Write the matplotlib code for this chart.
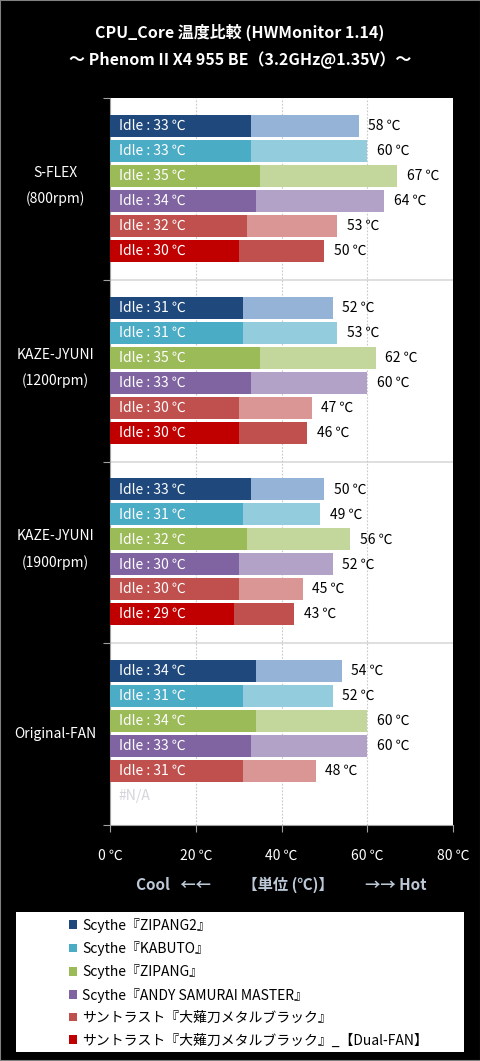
import numpy as np
import matplotlib
matplotlib.use('Agg')
import matplotlib.pyplot as plt
from matplotlib.patches import Patch, Rectangle
from matplotlib.transforms import blended_transform_factory

plt.rcParams['font.family'] = ['Noto Sans CJK JP', 'DejaVu Sans']

# ---- data -------------------------------------------------------------
groups = ['S-FLEX', 'KAZE-JYUNI', 'KAZE-JYUNI', 'Original-FAN']
group_sub = ['(800rpm)', '(1200rpm)', '(1900rpm)', '']
series = ['Scythe『ZIPANG2』', 'Scythe『KABUTO』', 'Scythe『ZIPANG』',
          'Scythe『ANDY SAMURAI MASTER』', 'サントラスト『大薙刀メタルブラック』',
          'サントラスト『大薙刀メタルブラック』_【Dual-FAN】']
idle = [[33, 33, 35, 34, 32, 30],
        [31, 31, 35, 33, 30, 30],
        [33, 31, 32, 30, 30, 29],
        [34, 31, 34, 33, 31, None]]
load = [[58, 60, 67, 64, 53, 50],
        [52, 53, 62, 60, 47, 46],
        [50, 49, 56, 52, 45, 43],
        [54, 52, 60, 60, 48, None]]
xticks = [0, 20, 40, 60, 80]

dark = ['#1F497D', '#4BACC6', '#9BBB59', '#8064A2', '#C0504D', '#C00000']
light = ['#95B3D7', '#93CDDD', '#C3D69B', '#B3A2C7', '#D99694', '#C0504D']

W, H = 481, 1061
fig = plt.figure(figsize=(W / 100, H / 100), dpi=100, facecolor='black')
ax = fig.add_axes([110 / W, 1 - 825 / H, 343 / W, 727 / H])
ax.set_facecolor('white')

G = 7.28          # slots per group
top_pad = 1.12
bh = 0.88
fs = 10

for g in range(len(groups)):
    for i in range(len(series)):
        y = g * G + top_pad + i
        lo, hi = idle[g][i], load[g][i]
        if lo is None:
            ax.text(2, y, '#N/A', color='#D4D4DC', fontsize=fs, va='center', ha='left')
            continue
        ax.barh(y, hi - lo, left=lo, height=bh, color=light[i], zorder=3)
        ax.barh(y, lo, left=0, height=bh, color=dark[i], zorder=3)
        ax.text(2, y, f'Idle : {lo} ℃', color='white', fontsize=fs,
                va='center', ha='left', zorder=4)
        ax.text(hi + 2.2, y, f'{hi} ℃', color='black', fontsize=fs,
                va='center', ha='left', zorder=4)

# group separators
for g in range(1, len(groups)):
    ax.axhline(g * G, color='#D9D9D9', lw=1.2, zorder=1)
for x in xticks[1:-1]:
    ax.axvline(x, color='#C8C8C8', lw=0.8, ls=(0, (1.5, 1.5)), zorder=1)

ax.set_xlim(0, 80)
ax.set_ylim(len(groups) * G, 0)
ax.set_xticks(xticks)
ax.set_xticklabels([f'{t} ℃' for t in xticks], color='white', fontsize=fs)
ax.set_yticks([g * G for g in range(len(groups) + 1)])
ax.set_yticklabels([])
ax.tick_params(axis='x', length=5, color='#A0A0A0', pad=12)
ax.tick_params(axis='y', length=5, color='#A0A0A0')
for s in ['top', 'right']:
    ax.spines[s].set_visible(False)
for s in ['left', 'bottom']:
    ax.spines[s].set_color('#A0A0A0')

ax.set_xlabel('Cool   ←←         【単位 (℃)】         →→ Hot', color='#BCC8D6',
              fontsize=11, fontweight='bold', labelpad=10)

# group labels on the left
tr = blended_transform_factory(ax.transAxes, ax.transData)
for g in range(len(groups)):
    c = g * G + G / 2
    if group_sub[g]:
        ax.text(-0.16, c - 0.64, groups[g], transform=tr, color='white',
                fontsize=fs, ha='center', va='center')
        ax.text(-0.16, c + 0.40, group_sub[g], transform=tr, color='white',
                fontsize=fs, ha='center', va='center')
    else:
        ax.text(-0.16, c, groups[g], transform=tr, color='white',
                fontsize=fs, ha='center', va='center')

# title
fig.text(240 / W, 1 - 32 / H, 'CPU_Core 温度比較 (HWMonitor 1.14)', color='white',
         fontsize=11.5, fontweight='bold', ha='center', va='center')
fig.text(240 / W, 1 - 60 / H, '～ Phenom II X4 955 BE（3.2GHz@1.35V）～', color='white',
         fontsize=11.5, fontweight='bold', ha='center', va='center')

# legend box
fig.patches.append(Rectangle((16 / W, 1 - 1052 / H), 448 / W, 140 / H,
                             transform=fig.transFigure, facecolor='white',
                             edgecolor='none', zorder=0))
handles = [Patch(facecolor=c, edgecolor='none') for c in dark]
fig.legend(handles, series, loc='upper left',
           bbox_to_anchor=(63 / W, 1 - 912 / H), frameon=False,
           fontsize=fs, handlelength=0.6, handleheight=0.6, handletextpad=0.4,
           labelspacing=0.6, borderaxespad=0)

# outer border
fig.patches.append(Rectangle((0, 0), 1, 1, transform=fig.transFigure,
                             facecolor='none', edgecolor='#808080', lw=1.5))

fig.savefig('out.png', dpi=100, facecolor='black')
